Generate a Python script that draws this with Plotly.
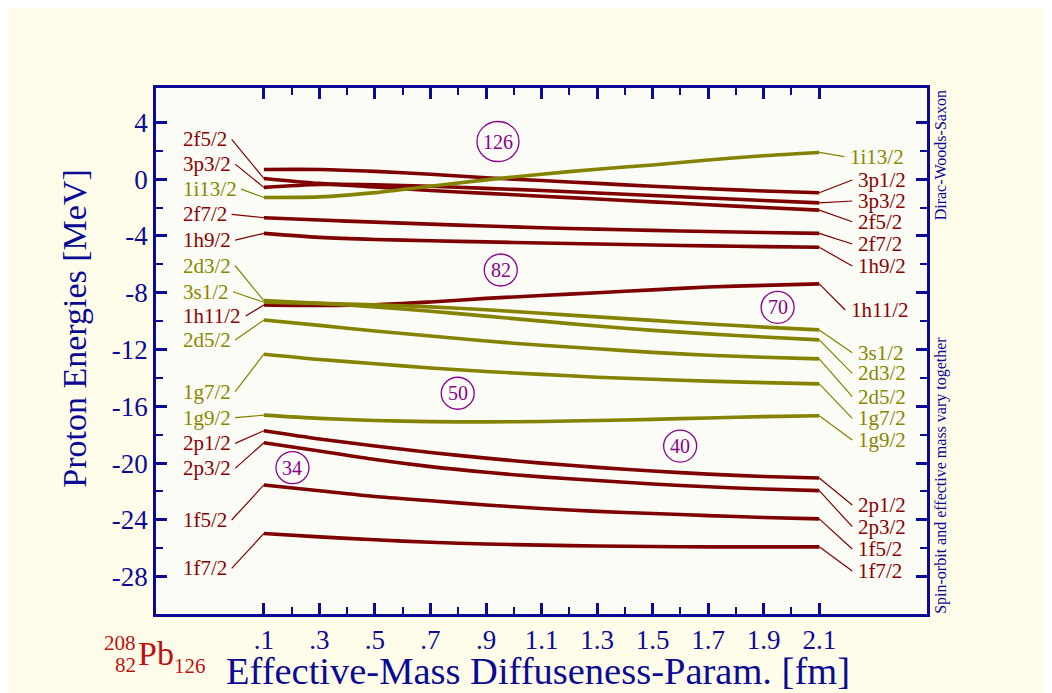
import plotly.graph_objects as go

# ---------------- data ----------------
x_vals = [0.1, 0.3, 0.5, 0.7, 0.9, 1.1, 1.3, 1.5, 1.7, 1.9, 2.1]

e_3p12 = [0.68, 0.68, 0.55, 0.35, 0.10, -0.10, -0.30, -0.50, -0.68, -0.83, -0.96]
e_2f52 = [0.05, -0.30, -0.55, -0.80, -1.00, -1.20, -1.40, -1.60, -1.80, -2.00, -2.18]
e_3p32 = [-0.58, -0.38, -0.40, -0.50, -0.65, -0.80, -0.98, -1.15, -1.33, -1.50, -1.67]
e_1i132 = [-1.29, -1.25, -0.95, -0.50, -0.05, 0.35, 0.70, 1.00, 1.35, 1.65, 1.88]
e_2f72 = [-2.72, -2.88, -3.03, -3.17, -3.30, -3.42, -3.52, -3.61, -3.69, -3.76, -3.82]
e_1h92 = [-3.82, -4.10, -4.25, -4.34, -4.42, -4.50, -4.57, -4.64, -4.70, -4.75, -4.80]
e_1h112 = [-8.86, -8.90, -8.85, -8.65, -8.40, -8.20, -8.00, -7.80, -7.60, -7.48, -7.38]
e_3s12 = [-8.67, -8.75, -8.85, -9.00, -9.20, -9.45, -9.70, -9.95, -10.20, -10.42, -10.62]
e_2d32 = [-8.56, -8.75, -9.00, -9.30, -9.65, -10.00, -10.35, -10.65, -10.90, -11.12, -11.32]
e_2d52 = [-9.92, -10.30, -10.70, -11.05, -11.40, -11.70, -11.95, -12.20, -12.40, -12.55, -12.66]
e_1g72 = [-12.33, -12.70, -13.00, -13.30, -13.55, -13.75, -13.95, -14.10, -14.23, -14.33, -14.42]
e_1g92 = [-16.62, -16.85, -17.00, -17.08, -17.10, -17.07, -17.00, -16.92, -16.82, -16.73, -16.67]
e_2p12 = [-17.72, -18.30, -18.80, -19.25, -19.65, -20.00, -20.30, -20.56, -20.78, -20.94, -21.05]
e_2p32 = [-18.57, -19.15, -19.75, -20.25, -20.65, -20.97, -21.23, -21.47, -21.67, -21.83, -21.94]
e_1f52 = [-21.54, -21.95, -22.35, -22.65, -22.95, -23.20, -23.40, -23.55, -23.70, -23.83, -23.93]
e_1f72 = [-24.96, -25.20, -25.40, -25.58, -25.70, -25.78, -25.84, -25.88, -25.90, -25.90, -25.90]

level_names = ["3p1/2", "2f5/2", "3p3/2", "1i13/2", "2f7/2", "1h9/2", "1h11/2", "3s1/2",
               "2d3/2", "2d5/2", "1g7/2", "1g9/2", "2p1/2", "2p3/2", "1f5/2", "1f7/2"]
level_values = [e_3p12, e_2f52, e_3p32, e_1i132, e_2f72, e_1h92, e_1h112, e_3s12,
                e_2d32, e_2d52, e_1g72, e_1g92, e_2p12, e_2p32, e_1f52, e_1f72]
level_parity = ["red", "red", "red", "olive", "red", "red", "red", "olive",
                "olive", "olive", "olive", "olive", "red", "red", "red", "red"]

magic_numbers = ["126", "82", "70", "50", "40", "34"]
magic_x = [0.943, 0.953, 1.950, 0.798, 1.599, 0.203]
magic_y = [2.65, -6.40, -9.03, -15.08, -18.80, -20.32]

x_tick_vals = [0.1, 0.3, 0.5, 0.7, 0.9, 1.1, 1.3, 1.5, 1.7, 1.9, 2.1]
x_tick_text = [".1", ".3", ".5", ".7", ".9", "1.1", "1.3", "1.5", "1.7", "1.9", "2.1"]
x_minor_vals = [0.2, 0.4, 0.6, 0.8, 1.0, 1.2, 1.4, 1.6, 1.8, 2.0]
y_tick_vals = [4, 0, -4, -8, -12, -16, -20, -24, -28]
y_minor_vals = [2, -2, -6, -10, -14, -18, -22, -26]

# ---------------- label placement (layout, MeV units) ----------------
left_label_y = {"2f5/2": 2.80, "3p3/2": 1.06, "1i13/2": -0.70, "2f7/2": -2.48, "1h9/2": -4.29,
                "2d3/2": -6.10, "3s1/2": -7.93, "1h11/2": -9.64, "2d5/2": -11.33,
                "1g7/2": -14.97, "1g9/2": -16.80, "2p1/2": -18.61, "2p3/2": -20.37,
                "1f5/2": -24.01, "1f7/2": -27.41}
right_label_y = {"1i13/2": 1.58, "3p1/2": -0.06, "3p3/2": -1.54, "2f5/2": -3.00, "2f7/2": -4.57,
                 "1h9/2": -6.12, "1h11/2": -9.22, "3s1/2": -12.23, "2d3/2": -13.68,
                 "2d5/2": -15.32, "1g7/2": -16.85, "1g9/2": -18.37, "2p1/2": -22.95,
                 "2p3/2": -24.48, "1f5/2": -26.05, "1f7/2": -27.60}
right_label_px = {"1i13/2": 848, "1h11/2": 849}

# ---------------- geometry (screen pixels of the plot box) ----------------
W, H = 1052, 693
OFF = 8                      # page body offset
SL, SR, ST, SB = 156.2, 926.7, 88.0, 614.0
XR = [-0.2885, 2.488]
YR = [-30.63, 6.42]


def px2x(px):
    return XR[0] + (px - SL) / (SR - SL) * (XR[1] - XR[0])


def px2paper(px):
    return (px - SL) / (SR - SL)


def py2paper(py):
    return (SB - py) / (SB - ST)


RED = "#7E0000"
RED_T = "#8B0000"
OLIVE = "#858200"
OLIVE_T = "#8A8600"
NAVY = "#0A0A96"
PURPLE = "#8B008B"
SERIF = "Liberation Serif, Times New Roman, serif"
LBL_SIZE = 21

em = {"/": 0.278, "f": 0.333, "i": 0.278, "s": 0.389}


def text_w(s, size):
    return sum(em.get(c, 0.5) for c in s) * size


fig = go.Figure()

for name, vals, par in zip(level_names, level_values, level_parity):
    col = RED if par == "red" else OLIVE
    fig.add_trace(go.Scatter(x=x_vals, y=vals, mode="lines",
                             line=dict(color=col, width=3.6, shape="spline", smoothing=0.8),
                             hoverinfo="skip", showlegend=False))

annotations = []
for name, vals, par in zip(level_names, level_values, level_parity):
    col = RED if par == "red" else OLIVE
    tcol = RED_T if par == "red" else OLIVE_T
    if name in left_label_y:
        ly = left_label_y[name]
        lx_px = 181.5
        start_x = px2x(lx_px + text_w(name, LBL_SIZE) + 6)
        fig.add_trace(go.Scatter(x=[start_x, x_vals[0]], y=[ly, vals[0]], mode="lines",
                                 line=dict(color=col, width=1.2), hoverinfo="skip",
                                 showlegend=False))
        annotations.append(dict(x=px2x(lx_px), y=ly, xref="x", yref="y", text=name,
                                showarrow=False, xanchor="left", yanchor="middle",
                                font=dict(family=SERIF, size=LBL_SIZE, color=tcol)))
    if name in right_label_y:
        ry = right_label_y[name]
        rx_px = right_label_px.get(name, 856)
        fig.add_trace(go.Scatter(x=[x_vals[-1], px2x(rx_px - 4)], y=[vals[-1], ry], mode="lines",
                                 line=dict(color=col, width=1.2), hoverinfo="skip",
                                 showlegend=False))
        annotations.append(dict(x=px2x(rx_px), y=ry, xref="x", yref="y", text=name,
                                showarrow=False, xanchor="left", yanchor="middle",
                                font=dict(family=SERIF, size=LBL_SIZE, color=tcol)))

shapes = []
for txt, mx, my in zip(magic_numbers, magic_x, magic_y):
    rx, ry = (21, 20) if len(txt) == 3 else (16.5, 16)
    shapes.append(dict(type="circle", xref="x", yref="y", xsizemode="pixel", ysizemode="pixel",
                       xanchor=mx, yanchor=my, x0=-rx, x1=rx, y0=-ry, y1=ry,
                       line=dict(color=PURPLE, width=1.3)))
    annotations.append(dict(x=mx, y=my, xref="x", yref="y", text=txt, showarrow=False,
                            xanchor="center", yanchor="middle",
                            font=dict(family=SERIF, size=20, color=PURPLE)))

# axis titles and side notes
annotations.append(dict(x=px2paper(538), y=py2paper(671), xref="paper", yref="paper",
                        text="Effective-Mass Diffuseness-Param. [fm]", showarrow=False,
                        xanchor="center", yanchor="middle",
                        font=dict(family=SERIF, size=38.5, color=NAVY)))
annotations.append(dict(x=px2paper(74), y=py2paper(328), xref="paper", yref="paper",
                        text="Proton Energies [MeV]", showarrow=False, textangle=-90,
                        xanchor="center", yanchor="middle",
                        font=dict(family=SERIF, size=34, color=NAVY)))
annotations.append(dict(x=px2paper(940), y=py2paper(88), xref="paper", yref="paper",
                        text="Dirac-Woods-Saxon", showarrow=False, textangle=-90,
                        xanchor="center", yanchor="top",
                        font=dict(family=SERIF, size=16, color=NAVY)))
annotations.append(dict(x=px2paper(940), y=py2paper(616), xref="paper", yref="paper",
                        text="Spin-orbit and effective mass vary together", showarrow=False,
                        textangle=-90, xanchor="center", yanchor="bottom",
                        font=dict(family=SERIF, size=16, color=NAVY)))

# nucleus label 208/82 Pb 126
PB = "#C01010"
annotations.append(dict(x=px2paper(136), y=py2paper(653), xref="paper", yref="paper",
                        text="Pb", showarrow=False, xanchor="left", yanchor="middle",
                        font=dict(family=SERIF, size=34, color=PB)))
annotations.append(dict(x=px2paper(138), y=py2paper(643), xref="paper", yref="paper",
                        text="208", showarrow=False, xanchor="right", yanchor="middle",
                        font=dict(family=SERIF, size=21, color=PB)))
annotations.append(dict(x=px2paper(138), y=py2paper(665), xref="paper", yref="paper",
                        text="82", showarrow=False, xanchor="right", yanchor="middle",
                        font=dict(family=SERIF, size=21, color=PB)))
annotations.append(dict(x=px2paper(172), y=py2paper(666), xref="paper", yref="paper",
                        text="126", showarrow=False, xanchor="left", yanchor="middle",
                        font=dict(family=SERIF, size=21, color=PB)))

axis_common = dict(showline=True, linecolor=NAVY, linewidth=2.5, mirror="ticks",
                   ticks="inside", tickcolor=NAVY, tickwidth=2.5, ticklen=11,
                   showgrid=False, zeroline=False,
                   tickfont=dict(family=SERIF, size=27, color=NAVY))

fig.update_layout(
    width=W, height=H,
    margin=dict(l=SL - OFF, r=W - (SR - OFF), t=ST - OFF, b=H - (SB - OFF)),
    paper_bgcolor="#FFFDE9",
    plot_bgcolor="#FAFCF5",
    showlegend=False,
    xaxis=dict(range=XR, tickmode="array", tickvals=x_tick_vals, ticktext=x_tick_text,
               minor=dict(tickvals=x_minor_vals, ticks="inside", ticklen=7, tickwidth=2,
                          tickcolor=NAVY, showgrid=False),
               **axis_common),
    yaxis=dict(range=YR, tickmode="array", tickvals=y_tick_vals,
               ticktext=[str(v) for v in y_tick_vals],
               minor=dict(tickvals=y_minor_vals, ticks="inside", ticklen=7, tickwidth=2,
                          tickcolor=NAVY, showgrid=False),
               **axis_common),
    annotations=annotations,
    shapes=shapes,
)

fig.write_html("out.html")
